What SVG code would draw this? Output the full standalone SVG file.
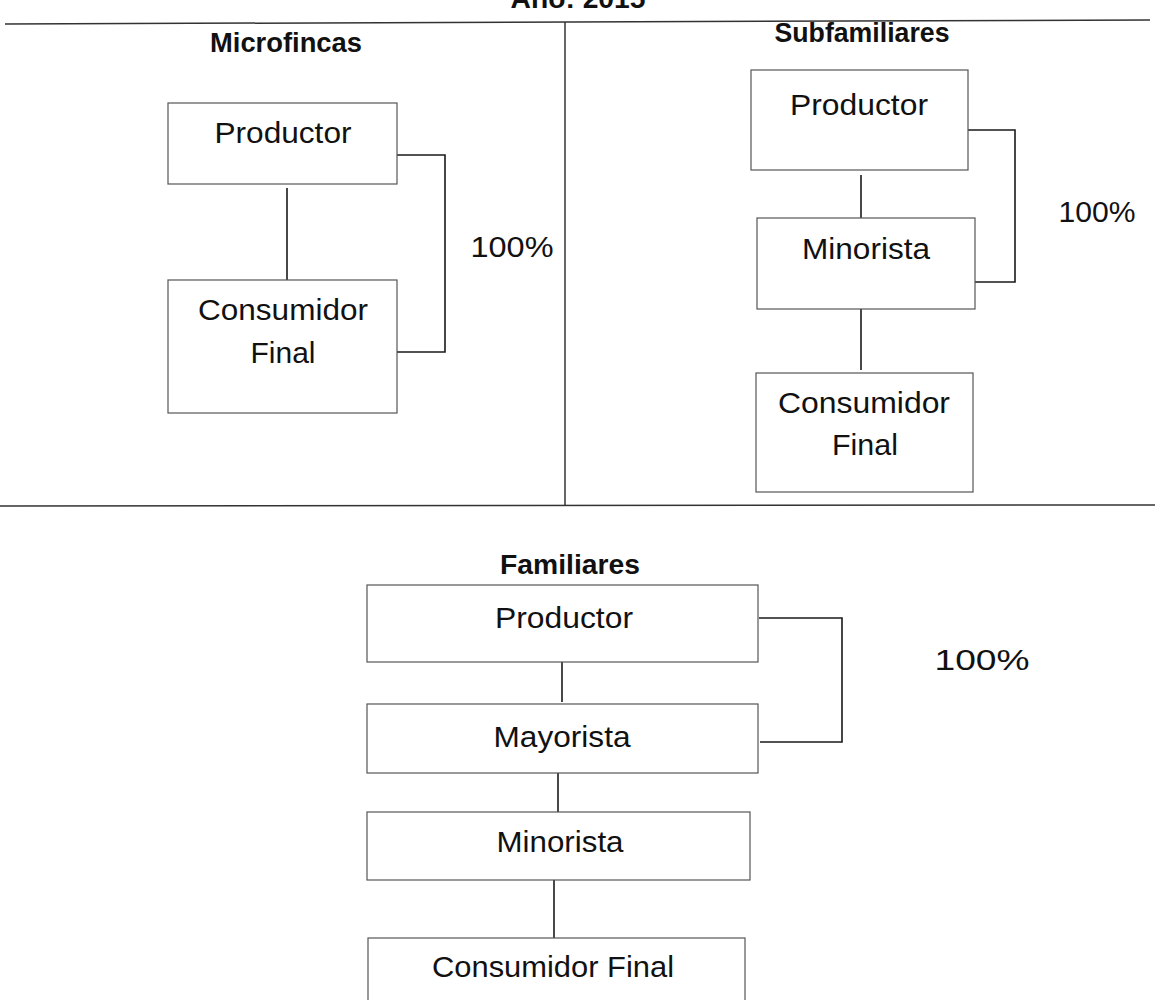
<svg xmlns="http://www.w3.org/2000/svg" width="1155" height="1000" viewBox="0 0 1155 1000">
<style>
.bg{fill:#ffffff}
.box{fill:#ffffff;stroke:#555555;stroke-width:1.2}
.con{fill:none;stroke:#1a1a1a;stroke-width:1.6}
.rule{fill:none;stroke:#333333;stroke-width:1.5}
.t{font-family:"Liberation Sans",Arial,sans-serif;font-size:29px;fill:#111111;text-anchor:middle}
.h{font-family:"Liberation Sans",Arial,sans-serif;font-size:27px;font-weight:bold;fill:#111111;text-anchor:middle}
</style>
<rect class="bg" x="0" y="0" width="1155" height="1000"/>
<g id="frame">
<text class="h" x="578" y="8" textLength="135" lengthAdjust="spacingAndGlyphs">Año: 2015</text>
<line class="rule" x1="5" y1="24" x2="1150" y2="20"/>
<line class="rule" x1="565" y1="22" x2="565" y2="505"/>
<line class="rule" x1="0" y1="506" x2="1155" y2="505"/>
<text class="h" x="286" y="52" textLength="152" lengthAdjust="spacingAndGlyphs">Microfincas</text>
<text class="h" x="862" y="42" textLength="175" lengthAdjust="spacingAndGlyphs">Subfamiliares</text>
<text class="h" x="570" y="574" textLength="140" lengthAdjust="spacingAndGlyphs">Familiares</text>
</g>
<g id="connectors">
<line class="con" x1="287" y1="188" x2="287" y2="280"/>
<polyline class="con" points="397,155 445,155 445,352 397,352"/>
<line class="con" x1="861" y1="175" x2="861" y2="218"/>
<line class="con" x1="861" y1="309" x2="861" y2="370"/>
<polyline class="con" points="968,130 1015,130 1015,282 975,282"/>
<line class="con" x1="562" y1="662" x2="562" y2="702"/>
<polyline class="con" points="759,618 842,618 842,742 760,742"/>
<line class="con" x1="558" y1="773" x2="558" y2="812"/>
<line class="con" x1="554" y1="880" x2="554" y2="938"/>
</g>
<g id="micro-productor">
<rect class="box" x="168" y="103" width="229" height="81"/>
<text class="t" x="283" y="143" textLength="137" lengthAdjust="spacingAndGlyphs">Productor</text>
</g>
<g id="micro-consumidor">
<rect class="box" x="168" y="280" width="229" height="133"/>
<text class="t" x="283" y="320" textLength="170" lengthAdjust="spacingAndGlyphs">Consumidor</text>
<text class="t" x="283" y="363" textLength="65" lengthAdjust="spacingAndGlyphs">Final</text>
</g>
<g id="micro-pct">
<text class="t" x="512" y="257" textLength="83" lengthAdjust="spacingAndGlyphs">100%</text>
</g>
<g id="sub-productor">
<rect class="box" x="751" y="70" width="217" height="100"/>
<text class="t" x="859" y="115" textLength="138" lengthAdjust="spacingAndGlyphs">Productor</text>
</g>
<g id="sub-minorista">
<rect class="box" x="757" y="218" width="218" height="91"/>
<text class="t" x="866" y="259" textLength="128" lengthAdjust="spacingAndGlyphs">Minorista</text>
</g>
<g id="sub-consumidor">
<rect class="box" x="756" y="373" width="217" height="119"/>
<text class="t" x="864" y="413" textLength="172" lengthAdjust="spacingAndGlyphs">Consumidor</text>
<text class="t" x="865" y="455" textLength="66" lengthAdjust="spacingAndGlyphs">Final</text>
</g>
<g id="sub-pct">
<text class="t" x="1097" y="222" textLength="77" lengthAdjust="spacingAndGlyphs">100%</text>
</g>
<g id="fam-productor">
<rect class="box" x="367" y="585" width="391" height="77"/>
<text class="t" x="564" y="628" textLength="138" lengthAdjust="spacingAndGlyphs">Productor</text>
</g>
<g id="fam-mayorista">
<rect class="box" x="367" y="704" width="391" height="69"/>
<text class="t" x="562" y="747" textLength="137" lengthAdjust="spacingAndGlyphs">Mayorista</text>
</g>
<g id="fam-minorista">
<rect class="box" x="367" y="812" width="383" height="68"/>
<text class="t" x="560" y="852" textLength="127" lengthAdjust="spacingAndGlyphs">Minorista</text>
</g>
<g id="fam-consumidor">
<rect class="box" x="368" y="938" width="377" height="80"/>
<text class="t" x="553" y="977" textLength="242" lengthAdjust="spacingAndGlyphs">Consumidor Final</text>
</g>
<g id="fam-pct">
<text class="t" x="982" y="670" textLength="95" lengthAdjust="spacingAndGlyphs">100%</text>
</g>
</svg>
